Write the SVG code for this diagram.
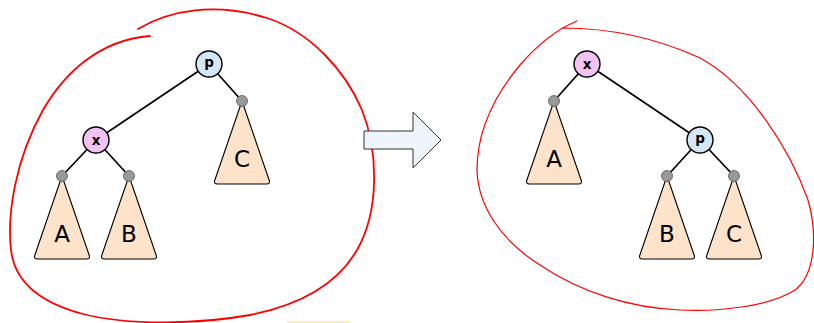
<svg xmlns="http://www.w3.org/2000/svg" xmlns:xlink="http://www.w3.org/1999/xlink" width="814" height="323" viewBox="0 0 814 323">
  <style>
    .edge { stroke: #000; stroke-width: 1.7; fill: none; }
    .node { stroke: #000; stroke-width: 1.4; }
    .np { fill: #d5e6f6; }
    .nx { fill: #f2c3f2; }
    .nlabel { font-family: "DejaVu Sans", sans-serif; font-size: 13.5px; font-weight: bold; text-anchor: middle; fill: #000; }
    .tri { fill: #fde3c9; stroke: #000; stroke-width: 1.1; stroke-linejoin: round; }
    .tlabel { font-family: "DejaVu Sans", sans-serif; font-size: 23px; text-anchor: middle; fill: #000; }
    .leaf { fill: #999; stroke: #555; stroke-width: 0.8; }
    .loop { fill: none; stroke: #ff0000; stroke-linecap: round; }
  </style>
  <defs>
    <!-- subtree triangle, apex at origin -->
    <path id="subtree" d="M0,0 L-27.2,79.2 Q-28.5,83 -24.5,83 L24.5,83 Q28.5,83 27.2,79.2 Z"/>
  </defs>

  <!-- hand-drawn loops -->
  <path class="loop" stroke-width="1.8" d="M138,29 C170,10 215,2 267,18 C310,32 345,70 362,110 C378,150 380,210 357,250 C337,285 300,305 250,315 C200,324 130,326 83,314 C45,304 15,285 11,250 C7,215 15,160 43,110 C65,72 100,40 150,36"/>
  <path class="loop" stroke-width="1.2" d="M562,28 C600,28 650,35 700,58 C750,85 790,150 808,200 C818,235 815,275 795,290 C770,306 720,312 680,310 C630,308 580,292 540,265 C500,240 478,205 477,170 C477,130 495,95 520,65 C540,42 560,28 577,21"/>

  <line x1="287" y1="322" x2="350" y2="322" stroke="#fbf08a" stroke-width="1.5"/>

  <!-- rotation arrow -->
  <polygon points="364,131 413,131 413,112 441,140 413,168 413,149 364,149" fill="#eef5fd" stroke="#333" stroke-width="1"/>

  <g id="connectors">
    <line class="edge" x1="209" y1="64" x2="96" y2="140"/>
    <line class="edge" x1="209" y1="64" x2="242" y2="101"/>
    <line class="edge" x1="96" y1="140" x2="62" y2="176"/>
    <line class="edge" x1="96" y1="140" x2="129" y2="176"/>
    <line class="edge" x1="587" y1="64" x2="700" y2="140"/>
    <line class="edge" x1="587" y1="64" x2="554" y2="101"/>
    <line class="edge" x1="700" y1="140" x2="667" y2="176"/>
    <line class="edge" x1="700" y1="140" x2="734" y2="176"/>
  </g>

  <!-- left tree -->
  <g id="left-A">
    <use xlink:href="#subtree" class="tri" transform="translate(62,176)"/>
    <circle class="leaf" cx="62" cy="176" r="5.5"/>
    <text class="tlabel" x="62" y="242">A</text>
  </g>
  <g id="left-B">
    <use xlink:href="#subtree" class="tri" transform="translate(129,176)"/>
    <circle class="leaf" cx="129" cy="176" r="5.5"/>
    <text class="tlabel" x="129" y="242">B</text>
  </g>
  <g id="left-C">
    <use xlink:href="#subtree" class="tri" transform="translate(242,101)"/>
    <circle class="leaf" cx="242" cy="101" r="5.5"/>
    <text class="tlabel" x="242" y="167">C</text>
  </g>
  <g id="left-p">
    <circle class="node np" cx="209" cy="64" r="13"/>
    <text class="nlabel" x="209" y="67">p</text>
  </g>
  <g id="left-x">
    <circle class="node nx" cx="96" cy="140" r="13"/>
    <text class="nlabel" x="96" y="144.5">x</text>
  </g>

  <!-- right tree -->
  <g id="right-A">
    <use xlink:href="#subtree" class="tri" transform="translate(554,101)"/>
    <circle class="leaf" cx="554" cy="101" r="5.5"/>
    <text class="tlabel" x="554" y="167">A</text>
  </g>
  <g id="right-B">
    <use xlink:href="#subtree" class="tri" transform="translate(667,176)"/>
    <circle class="leaf" cx="667" cy="176" r="5.5"/>
    <text class="tlabel" x="667" y="242">B</text>
  </g>
  <g id="right-C">
    <use xlink:href="#subtree" class="tri" transform="translate(734,176)"/>
    <circle class="leaf" cx="734" cy="176" r="5.5"/>
    <text class="tlabel" x="734" y="242">C</text>
  </g>
  <g id="right-x">
    <circle class="node nx" cx="587" cy="64" r="13"/>
    <text class="nlabel" x="587" y="68.5">x</text>
  </g>
  <g id="right-p">
    <circle class="node np" cx="700" cy="140" r="13"/>
    <text class="nlabel" x="700" y="143">p</text>
  </g>
</svg>
